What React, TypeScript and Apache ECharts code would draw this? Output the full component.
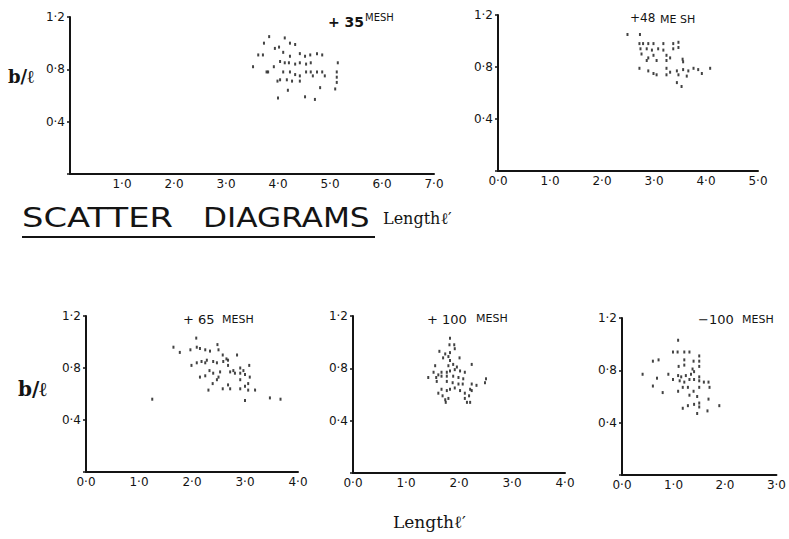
import React, { useEffect, useRef } from "react";
import * as echarts from "echarts";

const yTickLabels = ["", "0·4", "0·8", "1·2"];
const xTickLabels35 = ["", "1·0", "2·0", "3·0", "4·0", "5·0", "6·0", "7·0"];
const xTickLabels48 = ["0·0", "1·0", "2·0", "3·0", "4·0", "5·0"];
const xTickLabels65 = ["0·0", "1·0", "2·0", "3·0", "4·0"];
const xTickLabels100 = ["0·0", "1·0", "2·0", "3·0", "4·0"];
const xTickLabelsMinus100 = ["0·0", "1·0", "2·0", "3·0"];

const panelTitles = ["+ 35", "+48", "+ 65", "+ 100", "−100"];

const mesh35Points = [
  [3.83, 1.05], [4.13, 1.04], [3.73, 1.0], [4.02, 0.97], [3.94, 0.96], [4.23, 1.0], [4.33, 0.99],
  [4.1, 0.93], [4.23, 0.9], [4.42, 0.92], [4.52, 0.9], [4.62, 0.91], [4.75, 0.92], [4.85, 0.91],
  [3.62, 0.91], [3.71, 0.91], [3.52, 0.82], [3.92, 0.82], [4.04, 0.86], [4.13, 0.85], [4.21, 0.85],
  [4.33, 0.84], [4.42, 0.85], [4.54, 0.84], [4.63, 0.85], [5.15, 0.85], [3.81, 0.78], [4.1, 0.78],
  [4.23, 0.78], [4.33, 0.76], [4.42, 0.75], [4.54, 0.78], [4.63, 0.78], [4.75, 0.78], [4.85, 0.78],
  [5.13, 0.78], [5.13, 0.74], [5.13, 0.7], [5.1, 0.65], [4.04, 0.72], [4.17, 0.72], [4.27, 0.71],
  [4.42, 0.71], [4.67, 0.75], [4.9, 0.75], [4.19, 0.64], [4.81, 0.66], [4.0, 0.58], [4.52, 0.59],
  [4.71, 0.57], [3.78, 0.78], [3.99, 0.71],
];

const mesh48Points = [
  [2.49, 1.05], [2.73, 1.05],
  [2.72, 0.98], [2.79, 0.98], [2.89, 0.98], [2.99, 0.98], [3.18, 0.98], [3.37, 0.98], [3.47, 0.99],
  [2.74, 0.94], [2.86, 0.94], [2.96, 0.93], [3.08, 0.94], [3.18, 0.93], [3.37, 0.94], [3.47, 0.95],
  [2.76, 0.9], [2.89, 0.87], [2.99, 0.89], [3.24, 0.89], [3.31, 0.87], [3.55, 0.86],
  [2.86, 0.85], [3.05, 0.85], [3.24, 0.85], [3.56, 0.84],
  [2.72, 0.79], [2.89, 0.77], [2.99, 0.75], [3.24, 0.79], [3.31, 0.76], [3.44, 0.77], [3.56, 0.78],
  [3.66, 0.77], [3.76, 0.79], [3.85, 0.78], [3.92, 0.75], [4.08, 0.79],
  [3.05, 0.74], [3.24, 0.74], [3.47, 0.74], [3.63, 0.73],
  [3.44, 0.68], [3.53, 0.65],
];

const mesh65Points = [
  [1.25, 0.56], [1.65, 0.96], [1.77, 0.92], [2.08, 1.03],
  [1.97, 0.94], [2.09, 0.96], [2.15, 0.95], [2.25, 0.94], [2.34, 0.93], [2.48, 0.98], [2.5, 0.94],
  [2.58, 0.9], [2.65, 0.87], [2.68, 0.86], [2.85, 0.9],
  [1.99, 0.82], [2.09, 0.84], [2.18, 0.85], [2.25, 0.84], [2.28, 0.86], [2.4, 0.85],
  [2.47, 0.84], [2.59, 0.85], [2.68, 0.82], [2.78, 0.78], [2.91, 0.8], [2.97, 0.78], [3.08, 0.82],
  [2.15, 0.73], [2.25, 0.74], [2.33, 0.78], [2.4, 0.76], [2.5, 0.73], [2.53, 0.77], [2.72, 0.77],
  [2.81, 0.76], [2.91, 0.76], [3.0, 0.75], [3.09, 0.73],
  [2.31, 0.63], [2.39, 0.68], [2.47, 0.71], [2.58, 0.64], [2.68, 0.67], [2.72, 0.64], [2.91, 0.64],
  [3.0, 0.66], [3.06, 0.63], [3.19, 0.63], [2.91, 0.71], [3.06, 0.68],
  [3.0, 0.55], [3.47, 0.57], [3.67, 0.56],
];

const mesh100Points = [
  [1.83, 1.03], [1.82, 0.98], [1.91, 0.98],
  [1.63, 0.93], [1.74, 0.91], [1.83, 0.92], [1.92, 0.95],
  [1.7, 0.88], [1.8, 0.89], [2.01, 0.88], [1.83, 0.86], [1.89, 0.83], [1.8, 0.82],
  [1.55, 0.82], [1.96, 0.81], [2.24, 0.83],
  [1.52, 0.77], [1.61, 0.75], [1.67, 0.77], [1.77, 0.77], [1.83, 0.78], [1.92, 0.79], [2.02, 0.78], [2.11, 0.77],
  [1.42, 0.73], [1.57, 0.73], [1.67, 0.74], [1.77, 0.74], [1.89, 0.74], [1.99, 0.73], [2.08, 0.72],
  [1.58, 0.7], [1.77, 0.7], [1.88, 0.69], [1.99, 0.68], [2.07, 0.68],
  [2.24, 0.68], [2.33, 0.67], [2.51, 0.72], [2.49, 0.69],
  [1.67, 0.64], [1.77, 0.63], [1.83, 0.64], [1.92, 0.65], [2.02, 0.63], [2.11, 0.61], [2.21, 0.64], [2.24, 0.63],
  [1.61, 0.61], [1.69, 0.59], [1.74, 0.56], [1.8, 0.57], [2.11, 0.57], [2.19, 0.59], [2.15, 0.54], [2.21, 0.54], [1.75, 0.54],
];

const minus100Points = [
  [1.09, 1.03],
  [0.99, 0.94], [1.08, 0.94], [1.21, 0.94], [1.31, 0.94], [1.5, 0.91],
  [0.6, 0.87], [0.71, 0.88], [1.21, 0.88], [1.39, 0.87], [1.5, 0.87],
  [0.4, 0.77],
  [1.1, 0.83], [1.21, 0.84], [1.37, 0.81], [1.5, 0.83],
  [0.68, 0.74], [0.9, 0.77], [1.09, 0.76], [1.15, 0.75], [1.24, 0.76], [1.34, 0.77], [1.4, 0.79], [1.5, 0.75], [1.68, 0.71],
  [0.6, 0.68], [0.99, 0.73], [1.12, 0.72], [1.21, 0.71], [1.31, 0.73], [1.4, 0.73], [1.5, 0.72], [1.59, 0.71],
  [0.79, 0.63], [1.09, 0.64], [1.18, 0.67], [1.28, 0.67], [1.39, 0.64], [1.5, 0.67], [1.7, 0.67],
  [1.31, 0.61], [1.46, 0.6], [1.68, 0.58],
  [1.18, 0.51], [1.28, 0.53], [1.4, 0.54], [1.5, 0.55], [1.5, 0.52], [1.89, 0.53],
  [1.46, 0.47], [1.66, 0.49],
];

const INK = "#141414";
const FONT = "DejaVu Sans";

const panels = [
  { grid: { left: 70, top: 17, width: 364, height: 157 }, xMax: 7, xLabels: xTickLabels35, data: mesh35Points },
  { grid: { left: 498, top: 15, width: 260, height: 156 }, xMax: 5, xLabels: xTickLabels48, data: mesh48Points },
  { grid: { left: 86, top: 316, width: 212, height: 156 }, xMax: 4, xLabels: xTickLabels65, data: mesh65Points },
  { grid: { left: 353, top: 316, width: 212, height: 157 }, xMax: 4, xLabels: xTickLabels100, data: mesh100Points },
  { grid: { left: 622, top: 318, width: 160, height: 157 }, xMax: 3, xLabels: xTickLabelsMinus100, data: minus100Points },
];

export default function App() {
  const ref = useRef<HTMLDivElement>(null);
  useEffect(() => {
    if (!ref.current) return;
    const chart = echarts.init(ref.current, null, { renderer: "svg" });
    const grids = panels.map((p) => ({ ...p.grid, containLabel: false }));
    const xAxes = panels.map((p, i) => ({
      gridIndex: i,
      type: "value",
      min: 0,
      max: p.xMax,
      interval: 1,
      axisLine: { show: true, lineStyle: { color: INK, width: 2 } },
      axisTick: { show: false },
      splitLine: { show: false },
      axisLabel: {
        formatter: (v: number) => p.xLabels[Math.round(v)] ?? "",
        fontSize: 12,
        color: INK,
        fontFamily: FONT,
        margin: 4,
      },
    }));
    const yAxes = panels.map((p, i) => ({
      gridIndex: i,
      type: "value",
      min: 0,
      max: 1.2,
      interval: 0.4,
      axisLine: { show: true, lineStyle: { color: INK, width: 2 } },
      axisTick: { show: true, length: 3, lineStyle: { color: INK, width: 1.5 } },
      splitLine: { show: false },
      axisLabel: {
        formatter: (v: number) => yTickLabels[Math.round(v / 0.4)] ?? "",
        fontSize: 12,
        color: INK,
        fontFamily: FONT,
        margin: 5,
      },
    }));
    const series = panels.map((p, i) => ({
      type: "scatter",
      xAxisIndex: i,
      yAxisIndex: i,
      data: p.data,
      symbol: "rect",
      symbolSize: [2, 3],
      itemStyle: { color: INK },
    }));

    const txt = (x: number, y: number, text: string, size: number, extra: any = {}) => ({
      type: "text",
      x,
      y,
      style: {
        text,
        fill: INK,
        fontFamily: FONT,
        fontSize: size,
        textAlign: "left",
        textVerticalAlign: "middle",
        ...extra,
      },
    });

    const graphic: any[] = [
      // panel titles
      txt(328, 22, panelTitles[0], 14, { fontWeight: "bold" }),
      txt(365, 17, "MESH", 10),
      txt(630, 18, panelTitles[1], 12),
      txt(660, 19, "ME SH", 11),
      txt(183, 319, panelTitles[2], 13),
      txt(222, 319, "MESH", 11),
      txt(427, 319, panelTitles[3], 13),
      txt(476, 318, "MESH", 11),
      txt(698, 319, panelTitles[4], 13),
      txt(742, 319, "MESH", 11),
      // b/l labels
      txt(8, 76, "b/ℓ", 18, { fontWeight: "bold", fontFamily: "DejaVu Serif" }),
      txt(18, 389, "b/ℓ", 20, { fontWeight: "bold", fontFamily: "DejaVu Serif" }),
      // big heading
      { type: "text", x: 22, y: 218, scaleX: 1.3, style: { text: "SCATTER", fill: INK, fontFamily: FONT, fontSize: 26, textVerticalAlign: "middle" } },
      { type: "text", x: 203, y: 218, scaleX: 1.2, style: { text: "DIAGRAMS", fill: INK, fontFamily: FONT, fontSize: 26, textVerticalAlign: "middle" } },
      { type: "line", shape: { x1: 22, y1: 237, x2: 375, y2: 237 }, style: { stroke: INK, lineWidth: 2 } },
      txt(383, 218, "Lengthℓ′", 16, { fontFamily: "DejaVu Serif" }),
      txt(393, 522, "Lengthℓ′", 17, { fontFamily: "DejaVu Serif" }),
    ];

    chart.setOption({
      animation: false,
      backgroundColor: "#ffffff",
      grid: grids,
      xAxis: xAxes,
      yAxis: yAxes,
      series,
      graphic,
    });
    return () => chart.dispose();
  }, []);
  return (
    <div
      ref={ref}
      style={{ position: "fixed", left: 0, top: 0, width: 789, height: 539, background: "#fff" }}
    />
  );
}
